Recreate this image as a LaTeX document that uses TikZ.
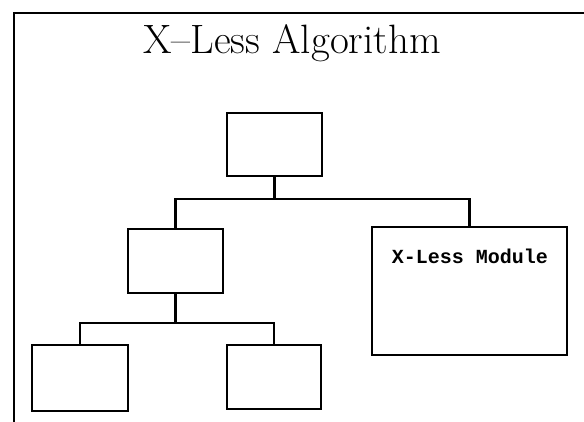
\documentclass[tikz,border=0pt]{standalone}
\usepackage{fontspec}
\newfontfamily\modfont{Liberation Mono}
\begin{document}
\begin{tikzpicture}[x=1pt,y=-1pt,
  box/.style={draw,line width=2pt,rectangle,inner sep=0pt},
  conn/.style={line width=2.8pt},
  frameline/.style={line width=1.6pt}]
\useasboundingbox (0,0) rectangle (584,422);
% frame
\coordinate (fr) at (584,13);
\coordinate (fc) at (14,13);
\coordinate (fb) at (14,422);
\draw[frameline] (fr) -- (fc) -- (fb);
% title
\node (title) at (292,43) {\fontsize{41}{48}\selectfont X--Less Algorithm};
% boxes
\node[box,minimum width=95pt,minimum height=63pt] (top) at (274.5,144.5) {};
\node[box,minimum width=95pt,minimum height=64pt] (mid) at (175.5,261) {};
\node[box,minimum width=195pt,minimum height=128pt] (mod) at (469.5,291) {};
\node[box,minimum width=96pt,minimum height=66pt] (bl) at (80,378) {};
\node[box,minimum width=94pt,minimum height=64pt] (bm) at (274,377) {};
\node (modlabel) at (470,256) {\modfont\bfseries\fontsize{20}{24}\selectfont X-Less Module};
% connectors
\coordinate (j1) at (274.5,199);
\coordinate (j2) at (175.5,323);
\draw[conn] (top.south) -- (j1);
\draw[conn] (mid.north) |- (j1) -| (mod.north);
\draw[conn] (mid.south) -- (j2);
\draw[conn] (bl.north) |- (j2) -| (bm.north);
\end{tikzpicture}
\end{document}
